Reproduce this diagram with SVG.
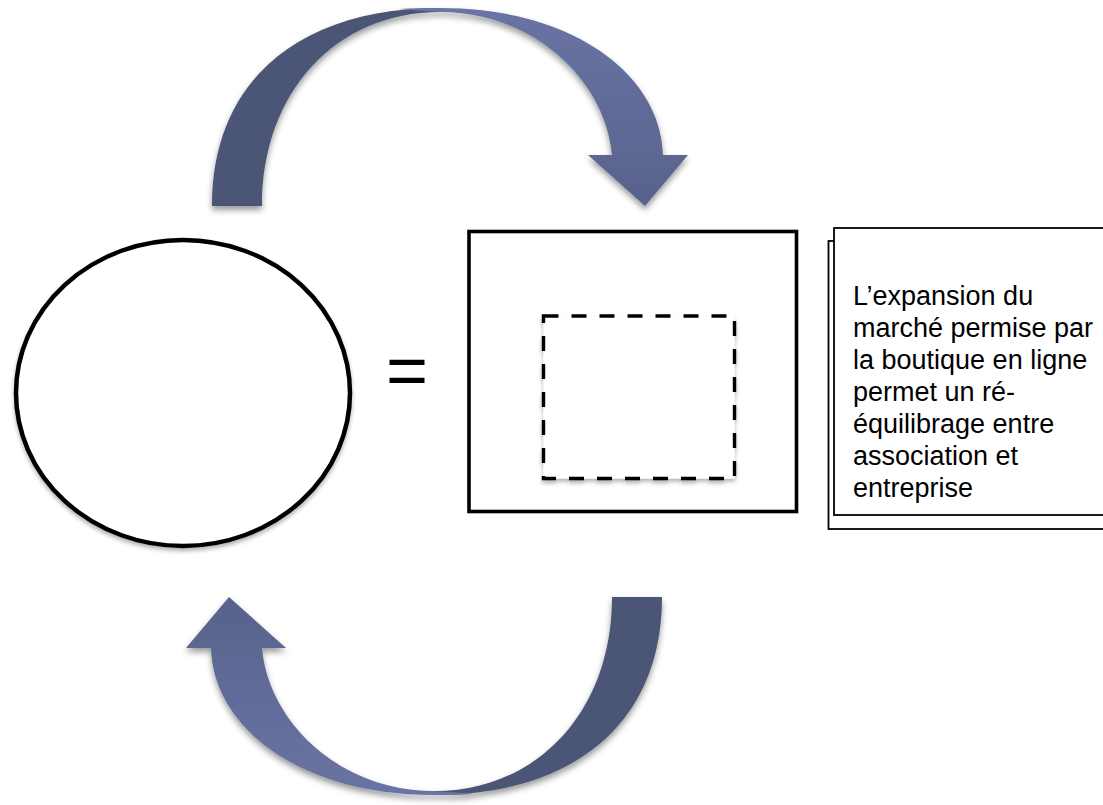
<svg xmlns="http://www.w3.org/2000/svg" xmlns:xlink="http://www.w3.org/1999/xlink" width="1103" height="805" viewBox="0 0 1103 805">
  <style>
    .outline { fill: #ffffff; stroke: #000000; }
    .dash { fill: #ffffff; stroke: #000000; stroke-width: 3.4; stroke-dasharray: 15 13; }
    .note { fill: #ffffff; stroke: #000000; stroke-width: 1.8; }
    .label { font-family: "Liberation Sans", Arial, sans-serif; fill: #000000; }
    .dark { fill: #4c5575; }
    .light { fill: url(#lightGrad); }
  </style>
  <defs>
    <filter id="shadow" x="-10%" y="-10%" width="120%" height="130%">
      <feDropShadow dx="0" dy="4" stdDeviation="3" flood-color="#000000" flood-opacity="0.4"/>
    </filter>
    <filter id="softShadow" x="-10%" y="-10%" width="120%" height="130%">
      <feDropShadow dx="0" dy="3" stdDeviation="2" flood-color="#000000" flood-opacity="0.3"/>
    </filter>
    <linearGradient id="lightGrad" gradientUnits="userSpaceOnUse" x1="0" y1="8" x2="0" y2="206">
      <stop offset="0" stop-color="#6a74a4"/>
      <stop offset="1" stop-color="#58628c"/>
    </linearGradient>
    <g id="curvedArrow">
      <path class="dark" d="M212,206 C212,80 300,8 440,8 L440,12 C336,12 262,92 262,206 Z"/>
      <path class="light" d="M398,9 C412,8 426,8 440,8 C575,8 661,76 663,155 L688,155 L645,206 L588,155 L612,155 C606,82 535,12 440,12 C425,11 410,10 398,9 Z"/>
    </g>
  </defs>

  <g id="connectors">
    <g id="arrow-top" filter="url(#shadow)">
      <use xlink:href="#curvedArrow"/>
    </g>
    <g id="arrow-bottom" filter="url(#shadow)">
      <use xlink:href="#curvedArrow" transform="rotate(180 437 401.5)"/>
    </g>
  </g>

  <g id="node-circle" filter="url(#softShadow)">
    <ellipse class="outline" cx="183" cy="393" rx="167" ry="153" stroke-width="4.5"/>
  </g>

  <g id="node-equals">
    <text class="label" x="386" y="395" font-size="72">=</text>
  </g>

  <g id="node-rect">
    <rect class="outline" x="469" y="231.5" width="327.5" height="280" stroke-width="3.6"/>
    <rect class="dash" x="543.5" y="316" width="191" height="162.5" filter="url(#softShadow)"/>
  </g>

  <g id="node-note">
    <rect class="note" x="828.5" y="241" width="300" height="288"/>
    <rect class="note" x="834" y="228" width="300" height="287"/>
    <text class="label" font-size="27">
      <tspan x="853" y="305">L’expansion du</tspan>
      <tspan x="853" y="337">marché permise par</tspan>
      <tspan x="853" y="369">la boutique en ligne</tspan>
      <tspan x="853" y="401">permet un ré-</tspan>
      <tspan x="853" y="433">équilibrage entre</tspan>
      <tspan x="853" y="465">association et</tspan>
      <tspan x="853" y="497">entreprise</tspan>
    </text>
  </g>
</svg>
